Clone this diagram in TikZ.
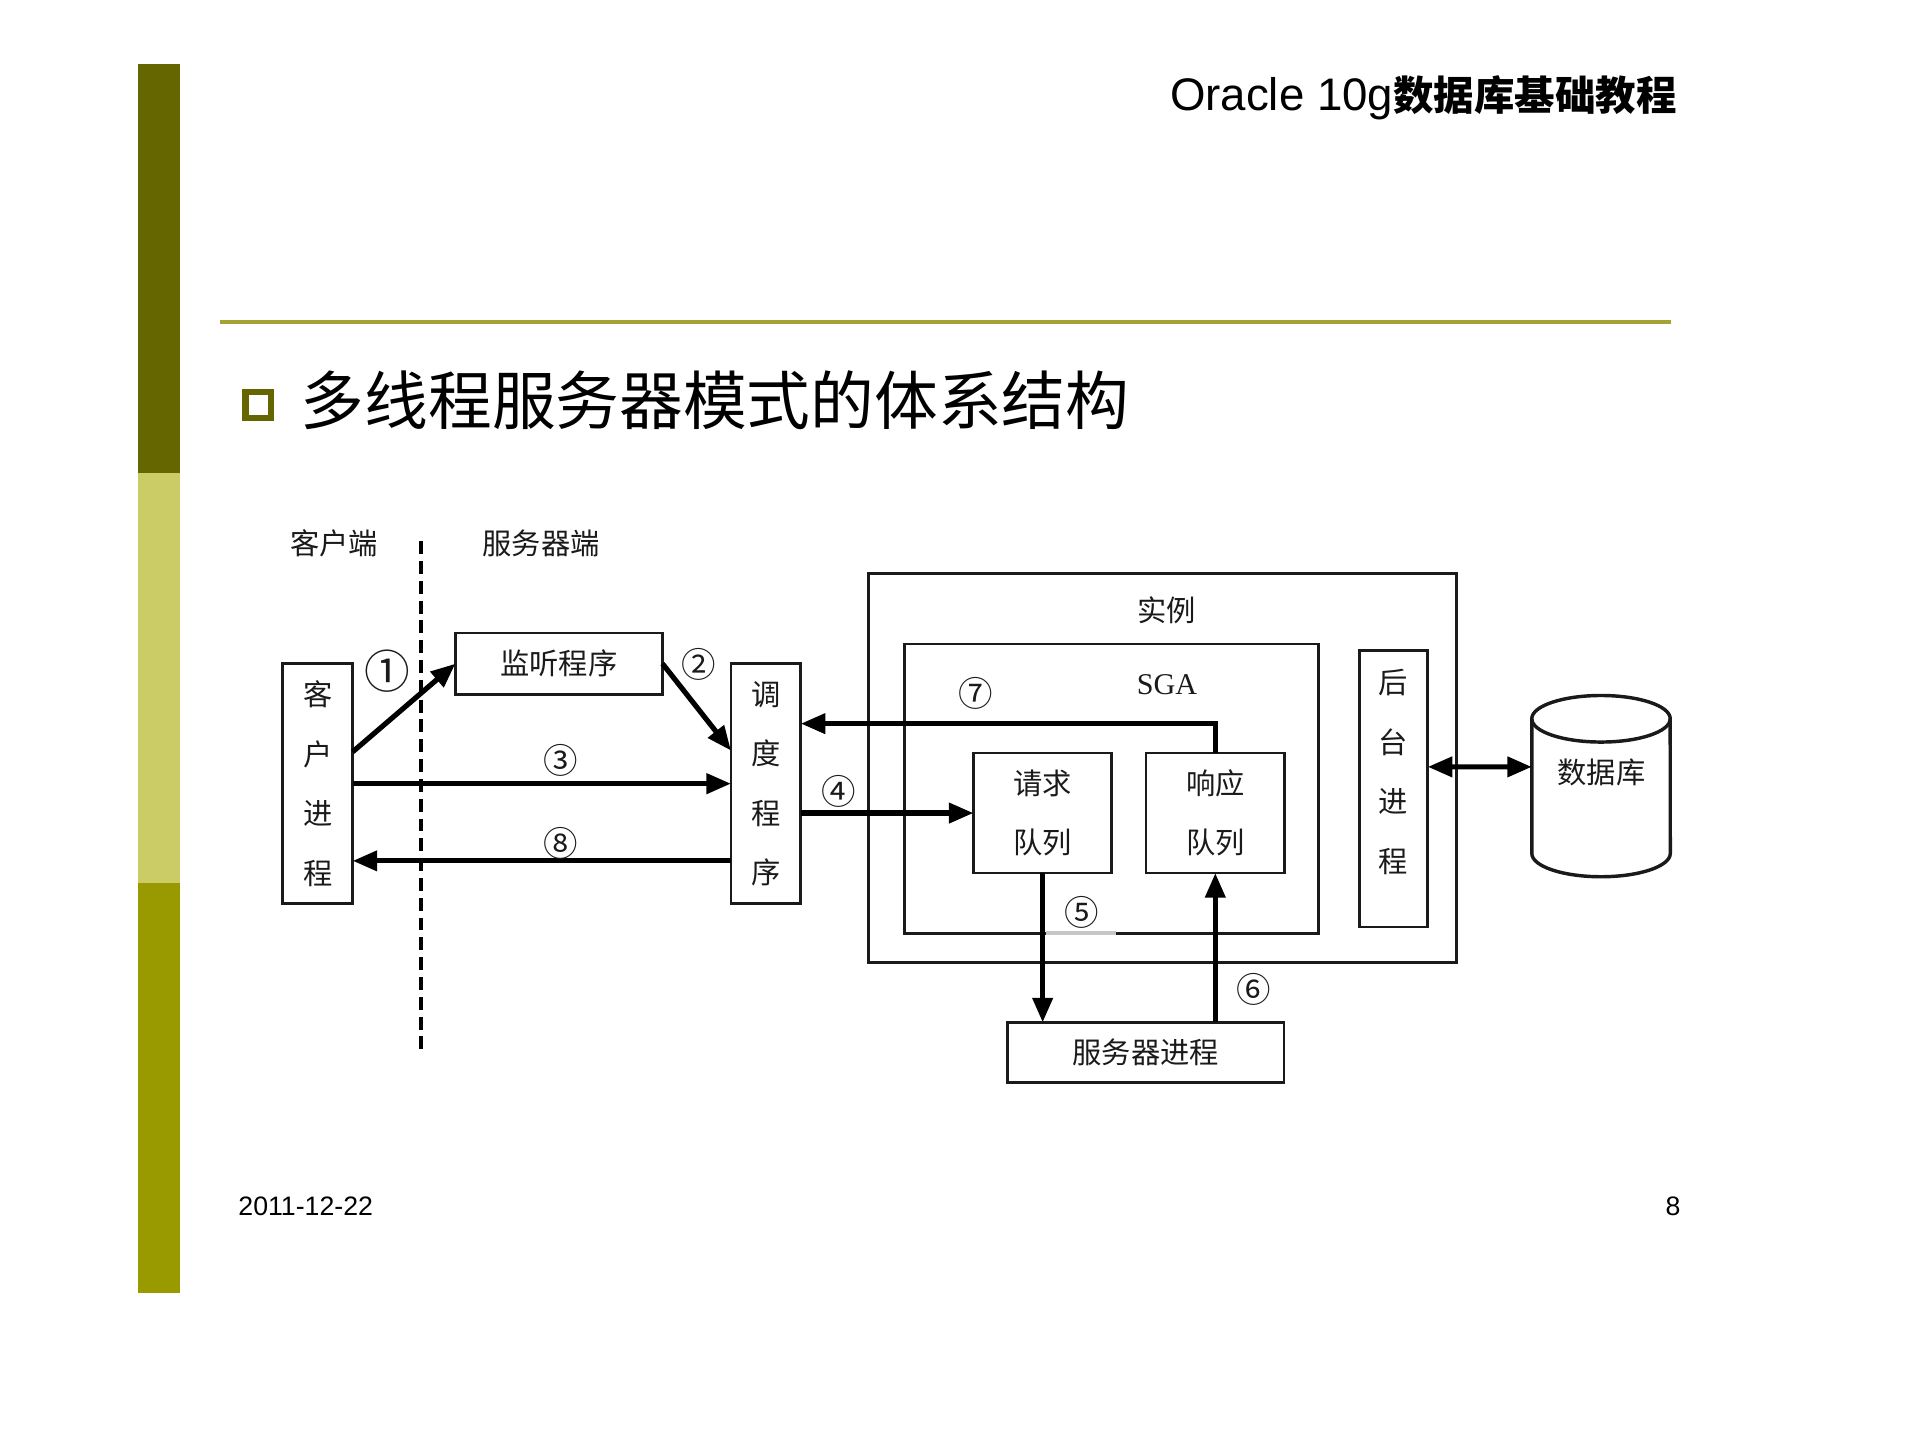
\documentclass[tikz,border=0pt]{standalone}
\usepackage{fontspec}
\setmainfont{Liberation Sans}
\newfontfamily\cjk{Noto Sans CJK SC}
\newfontfamily\serifl{Liberation Serif}
\usetikzlibrary{arrows.meta}
\definecolor{olivedark}{HTML}{666600}
\definecolor{olivelight}{HTML}{CCCC66}
\definecolor{olivemid}{HTML}{999900}
\definecolor{rulecol}{HTML}{A3A333}
\definecolor{ink}{HTML}{1A1A1A}
\tikzset{
  box/.style={draw=ink, line width=0.65pt, inner sep=0pt, outer sep=0pt},
  dtxt/.style={font=\cjk\fontsize{6.8}{13.8}\selectfont, text=ink, inner sep=0pt, align=center},
  num/.style={font=\cjk\fontsize{8}{9}\selectfont, text=ink, inner sep=0pt},
  arr/.style={draw=black, line width=1.2pt, -{Triangle[length=0.2cm,width=0.16cm]}},
  darr/.style={draw=black, line width=1.2pt, {Triangle[length=0.2cm,width=0.16cm]}-{Triangle[length=0.2cm,width=0.16cm]}},
}
\begin{document}
\begin{tikzpicture}[x=0.01cm,y=-0.01cm]
\useasboundingbox (0,0) rectangle (1568,1176);
\fill[white] (0,0) rectangle (1568,1176);
% left bar
\fill[olivedark] (113,52) rectangle (147,386.5);
\fill[olivelight] (113,386.5) rectangle (147,721);
\fill[olivemid] (113,721) rectangle (147,1056);
% rule
\draw[rulecol, line width=0.9pt] (180,263) -- (1365,263);
% header
\node[anchor=base east, inner sep=0pt] (hdr) at (1370,90)
  {\fontsize{10.6}{12}\selectfont Oracle 10g\cjk\bfseries\fontsize{9.4}{12}\selectfont 数据库基础教程};
% title
\draw[olivedark, line width=1.4pt] (200.5,320.5) rectangle (221.5,341.5);
\node[anchor=west, inner sep=0pt, font=\cjk\fontsize{14.8}{16}\selectfont] (title) at (245,327) {多线程服务器模式的体系结构};
% footer
\node[anchor=west, inner sep=0pt, font=\fontsize{6.2}{8}\selectfont] (date) at (194,985) {2011-12-22};
\node[anchor=east, inner sep=0pt, font=\fontsize{6.2}{8}\selectfont] (page) at (1373,985) {8};

% side labels and divider
\node[dtxt] (clientside) at (273,444) {客户端};
\node[dtxt] (serverside) at (442,444) {服务器端};
\coordinate (dtop) at (344,442);
\coordinate (dbot) at (344,860);
\draw[black, line width=1.05pt, dash pattern=on 3pt off 1.6pt] (dtop) -- (dbot);

% boxes
\node[box, dtxt, minimum width=0.57cm, minimum height=1.96cm] (client) at (259.5,640) {客\\户\\进\\程};
\node[box, dtxt, minimum width=1.69cm, minimum height=0.50cm] (listener) at (456.5,542) {监听程序};
\node[box, dtxt, minimum width=0.57cm, minimum height=1.96cm] (disp) at (625.5,640) {调\\度\\程\\序};
\node[box, minimum width=4.80cm, minimum height=3.176cm] (inst) at (949.5,627.2) {};
\node[dtxt] (instl) at (953,498) {实例};
\node[box, minimum width=3.385cm, minimum height=2.36cm] (sga) at (907.75,644) {};
\draw[gray!45, line width=0.8pt] (854,762) -- (911,762);
\node[inner sep=0pt, font=\serifl\fontsize{7.0}{9}\selectfont, text=ink] (sgal) at (953,559) {SGA};
\node[box, dtxt, minimum width=1.13cm, minimum height=0.98cm] (reqq) at (851.5,664) {请求\\队列};
\node[box, dtxt, minimum width=1.13cm, minimum height=0.98cm] (respq) at (992.5,664) {响应\\队列};
\node[box, minimum width=0.56cm, minimum height=2.254cm] (bg) at (1138,644.3) {};
\node[dtxt] (bgl) at (1138,630.5) {后\\台\\进\\程};
\node[box, dtxt, minimum width=2.255cm, minimum height=0.49cm] (server) at (935.75,859.5) {服务器进程};

% database cylinder
\draw[ink, line width=0.8pt] (1251,587) -- (1251,697)
  arc[start angle=180, end angle=360, x radius=0.565cm, y radius=0.19cm] -- (1364,587);
\draw[ink, line width=0.8pt] (1307.5,587) ellipse[x radius=0.565cm, y radius=0.19cm];
\node[dtxt] (dbl) at (1308,631) {数据库};
\coordinate (dbw) at (1251,626.3);

% connectors
\draw[arr] ([yshift=0.26cm]client.east) -- (listener.west);
\draw[arr] (listener.east) -- ([yshift=0.27cm]disp.west);
\draw[arr] (client.east) -- (disp.west);
\draw[arr] ([yshift=-0.63cm]disp.west) -- ([yshift=-0.63cm]client.east);
\draw[arr] (disp.east |- reqq.west) -- (reqq.west);
\draw[arr] (respq.north) |- ([yshift=0.49cm]disp.east);
\draw[arr] (reqq.south) -- (reqq.south |- server.north);
\draw[arr] (respq.south |- server.north) -- (respq.south);
\draw[darr] ([yshift=0.18cm]bg.east) -- (dbw);

% numbers
\node[num, font=\cjk\fontsize{10.6}{12}\selectfont] (n1) at (316,548) {①};
\node[num] (n2) at (571,543) {②};
\node[num] (n3) at (458,621) {③};
\node[num] (n4) at (685,646) {④};
\node[num] (n5) at (883,745) {⑤};
\node[num] (n6) at (1024,808) {⑥};
\node[num] (n7) at (797,566) {⑦};
\node[num] (n8) at (458,689) {⑧};
\end{tikzpicture}
\end{document}
